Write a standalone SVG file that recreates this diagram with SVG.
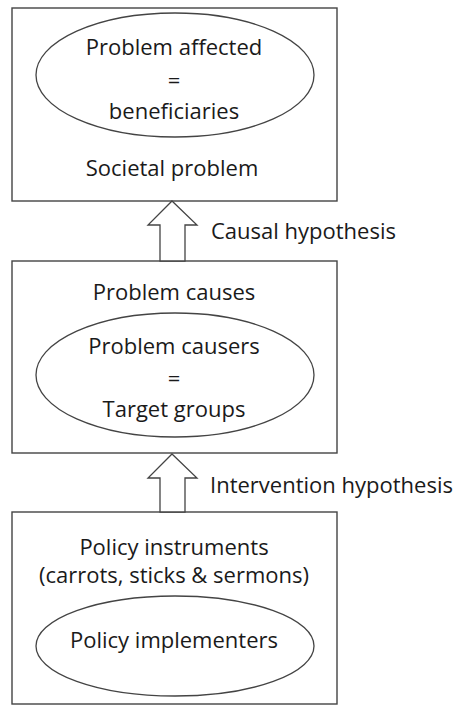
<svg xmlns="http://www.w3.org/2000/svg" width="460" height="706" viewBox="0 0 460 706">
<style>
.box{fill:#fff;stroke:#444;stroke-width:1.4}
.ell{fill:none;stroke:#444;stroke-width:1.3}
.arr{fill:#fff;stroke:#444;stroke-width:1.3;stroke-linejoin:miter}
text{font-family:"Open Sans","Noto Sans",sans-serif;font-size:22px;fill:#1a1a1a}
.c{text-anchor:middle}
</style>
<rect width="460" height="706" fill="#fff"/>
<g id="societal-problem">
<rect class="box" x="12" y="8" width="325" height="193"/>
<ellipse class="ell" cx="175" cy="75" rx="139" ry="62"/>
<text class="c" x="174" y="55">Problem affected</text>
<text class="c" x="174" y="88">=</text>
<text class="c" x="174" y="119">beneficiaries</text>
<text class="c" x="172" y="176">Societal problem</text>
</g>
<g id="problem-causes">
<rect class="box" x="12" y="261" width="325" height="192"/>
<text class="c" x="174" y="300">Problem causes</text>
<ellipse class="ell" cx="175" cy="375" rx="139" ry="62"/>
<text class="c" x="174" y="354">Problem causers</text>
<text class="c" x="174" y="386">=</text>
<text class="c" x="174" y="417">Target groups</text>
</g>
<g id="policy-instruments">
<rect class="box" x="12" y="512" width="325" height="192"/>
<text class="c" x="174" y="555">Policy instruments</text>
<text class="c" x="174" y="583">(carrots, sticks &amp; sermons)</text>
<ellipse class="ell" cx="175" cy="646" rx="139" ry="50"/>
<text class="c" x="174" y="648">Policy implementers</text>
</g>
<g id="connectors">
<polygon class="arr" points="172,201 197,225 185,225 185,261 160,261 160,225 148,225"/>
<text x="211" y="239">Causal hypothesis</text>
<polygon class="arr" points="172,454 197,478 185,478 185,512 160,512 160,478 148,478"/>
<text x="210" y="493">Intervention hypothesis</text>
</g>
</svg>
